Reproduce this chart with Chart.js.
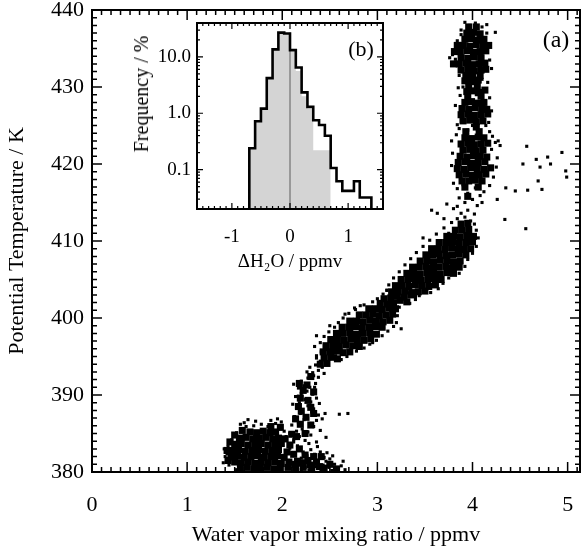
<!DOCTYPE html>
<html><head><meta charset="utf-8">
<script src="https://cdn.jsdelivr.net/npm/chart.js@4/dist/chart.umd.min.js"></script>
<style>
html,body{margin:0;padding:0;background:#fff;}
#wrap{position:relative;width:587px;height:551px;overflow:hidden;}
canvas{position:absolute;left:0;top:0;}
.lab{position:absolute;font-family:'Liberation Serif',serif;color:#000;transform:translate(-50%,-50%);white-space:nowrap;line-height:1;}
</style></head><body>
<div id="wrap">
<canvas id="main" width="587" height="551"></canvas>
<canvas id="inset" width="587" height="551"></canvas>
<div class="lab" style="left:556px;top:39px;font-size:24px;">(a)</div>
<div class="lab" style="left:361px;top:49px;font-size:22px;">(b)</div>
<div class="lab" id="insetYTitle" style="left:141px;top:94px;font-size:20px;transform:translate(-50%,-50%) rotate(-90deg);"></div>
</div>
<script>
// ---------- main panel (a) ----------
const xTicks=[0,1,2,3,4,5];
const yTicks=[380,390,400,410,420,430,440];
const xTitle='Water vapor mixing ratio / ppmv';
const yTitle='Potential Temperature / K';

// dense cores (drawn with larger squares)
const coreLow=[[1.56,380.5],[1.63,380.6],[1.70,380.4],[1.77,380.5],[1.84,380.6],[1.91,380.4],[1.98,380.5],[2.06,380.6],[2.14,380.4],[2.22,380.6],[2.31,380.5],[2.39,380.7],
[1.50,381.3],[1.57,381.2],[1.64,381.3],[1.71,381.1],[1.78,381.3],[1.85,381.2],[1.92,381.3],[1.99,381.1],[2.07,381.3],[2.16,381.4],[2.27,381.5],
[1.46,382.0],[1.53,382.1],[1.60,381.9],[1.67,382.0],[1.74,382.1],[1.81,381.9],[1.88,382.0],[1.95,382.1],[2.02,381.9],[2.12,382.3],
[1.47,382.8],[1.54,382.9],[1.61,382.7],[1.68,382.8],[1.75,382.9],[1.82,382.7],[1.89,382.8],[1.96,382.9],
[1.50,383.6],[1.57,383.7],[1.64,383.5],[1.71,383.6],[1.78,383.7],[1.85,383.5],[1.92,383.6],[1.99,383.7],
[1.55,384.4],[1.62,384.5],[1.69,384.3],[1.76,384.4],[1.83,384.5],[1.90,384.3],[1.96,384.4],
[1.66,385.2],[1.73,385.1],[1.80,385.3],[1.87,385.1],[1.93,385.2],
[2.05,382.6],[2.13,381.0],[2.21,381.2],[2.29,380.9],[2.36,381.3],[2.44,380.5],[2.50,381.0],[2.57,380.4],[2.24,382.2],[2.33,382.0],[2.08,383.5],[2.18,383.0],[2.41,382.0],[2.03,384.3],[2.10,384.9],
[1.43,381.5],[1.42,382.8],[1.45,383.9],[1.50,384.8],[1.58,385.4],[1.98,385.8],[1.88,385.9],
[2.15,384.6],[2.24,385.0],[2.30,386.1],[2.14,386.9],[2.25,387.1],[2.33,387.6],[2.17,388.5],[2.30,388.4],[2.19,389.6],[2.33,390.4],[2.26,391.3],[2.18,391.5],[2.30,392.4],
[2.20,387.9],[2.27,389.3],[2.22,390.6],[2.19,386.2]];
const coreMid=[[2.40,394.0],[2.47,394.1],[2.44,394.8],[2.51,394.9],[2.58,394.7],
[2.43,395.6],[2.50,395.6],[2.57,395.7],[2.64,395.5],[2.71,395.6],
[2.46,396.4],[2.53,396.4],[2.60,396.3],[2.67,396.5],[2.74,396.4],[2.81,396.3],
[2.51,397.2],[2.58,397.2],[2.65,397.1],[2.72,397.3],[2.79,397.2],[2.86,397.1],[2.93,397.3],
[2.57,398.0],[2.64,398.0],[2.71,398.1],[2.78,397.9],[2.85,398.0],[2.92,398.1],[2.99,397.9],
[2.63,398.8],[2.70,398.8],[2.77,398.9],[2.84,398.7],[2.91,398.8],[2.98,398.9],[3.05,398.8],
[2.71,399.6],[2.78,399.6],[2.85,399.5],[2.92,399.7],[2.99,399.6],[3.06,399.5],[3.13,399.7],
[2.81,400.4],[2.88,400.4],[2.95,400.5],[3.02,400.3],[3.09,400.4],[3.16,400.5],
[2.91,401.2],[2.98,401.2],[3.05,401.1],[3.12,401.3],[3.19,401.2],
[3.03,401.9],[3.10,401.8],[3.17,402.0],[3.24,402.3],[3.31,402.1],[3.07,402.5],[3.14,402.6],[3.21,402.9],[3.28,402.7],[3.35,403.0]];
const coreUp=[[3.15,403.4],[3.22,403.4],[3.29,403.5],[3.36,403.3],[3.43,403.4],[3.50,403.5],
[3.19,404.2],[3.26,404.2],[3.33,404.1],[3.40,404.3],[3.47,404.2],[3.54,404.1],[3.61,404.3],
[3.25,405.0],[3.32,405.0],[3.39,405.1],[3.46,404.9],[3.53,405.0],[3.60,405.1],[3.67,405.0],
[3.31,405.8],[3.38,405.8],[3.45,405.7],[3.52,405.9],[3.59,405.8],[3.66,405.7],[3.73,405.9],[3.80,405.8],
[3.37,406.6],[3.44,406.6],[3.51,406.7],[3.58,406.5],[3.65,406.6],[3.72,406.7],[3.79,406.5],[3.86,406.6],
[3.45,407.4],[3.52,407.4],[3.59,407.3],[3.66,407.5],[3.73,407.4],[3.80,407.3],[3.87,407.4],
[3.51,408.2],[3.58,408.2],[3.65,408.3],[3.72,408.1],[3.79,408.2],[3.86,408.3],[3.93,408.2],
[3.57,409.0],[3.64,409.0],[3.71,408.9],[3.78,409.1],[3.85,409.0],[3.91,408.9],[3.98,409.0],
[3.65,409.8],[3.72,409.8],[3.79,409.9],[3.86,409.7],[3.93,409.8],[4.00,409.9],
[3.73,410.6],[3.80,410.6],[3.87,410.5],[3.94,410.7],[4.01,410.6],
[3.82,411.4],[3.89,411.4],[3.96,411.5],[3.88,412.2],[3.95,412.3]];
const coreCol=[[3.95,415.8],[3.92,417.0],[4.06,417.0],[3.89,417.8],[3.96,417.8],[4.03,417.9],[4.10,417.8],
[3.86,418.6],[3.93,418.7],[4.00,418.5],[4.07,418.6],[4.14,418.7],
[3.84,419.4],[3.91,419.3],[3.98,419.5],[4.05,419.4],[4.12,419.3],[4.19,419.5],
[3.85,420.2],[3.92,420.3],[3.99,420.1],[4.06,420.2],[4.13,420.3],
[3.87,421.0],[3.94,420.9],[4.01,421.1],[4.08,421.0],[4.15,420.9],
[3.90,421.8],[3.97,421.9],[4.04,421.7],[4.11,421.8],
[3.88,422.6],[3.95,422.7],[4.02,422.5],[4.09,422.6],[4.16,422.7],
[3.92,423.4],[3.99,423.3],[4.06,423.5],[4.12,423.4],[3.93,424.2],[4.07,424.2],[4.04,424.8],
[3.90,425.6],[3.97,425.7],[4.04,425.5],[4.11,425.6],
[3.88,426.4],[3.95,426.5],[4.02,426.3],[4.09,426.4],[4.16,426.5],
[3.89,427.2],[3.96,427.1],[4.03,427.3],[4.10,427.2],[4.15,427.1],
[3.92,428.0],[3.99,428.1],[4.06,427.9],[4.12,428.0],[3.95,428.8],[4.09,428.8],
[3.94,429.4],[4.01,429.5],[4.08,429.3],[4.13,429.6],[3.96,430.1],[4.05,430.1],
[3.92,430.8],[3.99,430.7],[4.06,430.9],[3.93,431.5],[4.00,431.5],[4.08,431.5],
[3.88,432.2],[3.95,432.3],[4.02,432.1],[4.09,432.2],[4.14,432.3],
[3.80,433.0],[3.86,433.0],[3.93,433.1],[4.00,432.9],[4.07,433.0],[4.13,433.1],
[3.88,433.8],[3.95,433.7],[4.02,433.9],[4.09,433.8],
[3.81,434.6],[3.87,434.6],[3.94,434.7],[4.01,434.5],[4.08,434.6],[4.14,434.7],
[3.84,435.4],[3.90,435.4],[3.97,435.3],[4.04,435.5],[4.11,435.4],[4.17,435.4],
[3.92,436.2],[3.99,436.3],[4.06,436.1],[4.12,436.2],
[3.94,437.0],[4.01,437.1],[4.08,436.9],[3.96,437.8],[4.04,437.8]];

// scattered individual samples (small squares)
const scatLow=[[1.42,382.4],[1.43,383.3],[1.45,381.6],[1.47,384.2],[1.44,380.9],[1.52,385.1],[1.58,385.5],[1.62,385.9],[1.70,386.0],[1.78,386.2],[1.85,385.9],[1.93,386.3],[1.98,385.6],[1.88,386.7],[1.95,386.9],[1.99,386.5],[1.72,386.6],[1.60,386.4],[1.50,384.9],[1.46,383.9],[1.40,382.0],[1.52,380.3],[2.04,384.6],[2.02,385.3],[2.08,383.1],[2.10,382.4],[2.14,381.6],[2.18,380.9],[2.20,381.8],[2.24,380.6],[2.27,381.3],[2.30,380.4],[2.32,381.0],[2.35,380.7],[2.38,381.5],[2.41,380.3],[2.43,380.9],[2.46,381.4],[2.49,380.6],[2.52,380.2],[2.55,381.0],[2.58,380.5],[2.62,380.8],[2.22,382.6],[2.26,382.1],[2.30,382.9],[2.34,382.3],[2.37,383.3],[2.40,382.6],[2.28,383.7],[2.16,383.4],[2.44,381.9],[2.50,381.7],[2.33,381.8],[2.28,380.2],[2.20,380.3],[2.12,383.9],[1.56,386.2],[1.64,386.8],[2.64,381.4],[2.47,382.5],[2.53,382.1],[2.36,383.9],[2.66,380.3],[1.38,381.2],[1.39,383.0]];
const colLow=[[2.12,384.2],[2.18,384.6],[2.24,384.1],[2.30,384.8],[2.15,385.3],[2.21,385.6],[2.27,385.2],[2.33,385.9],[2.10,386.1],[2.17,386.4],[2.23,386.8],[2.29,386.3],[2.36,386.7],[2.13,387.2],[2.19,387.6],[2.25,387.3],[2.31,387.8],[2.38,387.4],[2.42,386.9],[2.15,388.3],[2.21,388.1],[2.27,388.6],[2.33,388.2],[2.18,389.0],[2.24,389.4],[2.30,389.1],[2.36,389.6],[2.14,389.8],[2.20,390.2],[2.26,390.5],[2.32,390.1],[2.17,390.9],[2.23,391.2],[2.29,391.0],[2.35,391.5],[2.20,391.8],[2.27,392.2],[2.33,392.5],[2.11,388.8],[2.39,388.9],[2.45,387.6],[2.60,387.5],[2.69,387.6],[2.08,385.0],[2.40,385.4],[2.46,384.5],[2.12,391.4],
[2.32,392.9],[2.38,393.2],[2.29,393.6],[2.35,393.9],[2.42,393.6],[2.40,394.4],[2.46,394.1],[2.36,394.8],[2.44,395.2],[2.50,394.7],[2.52,395.5],[2.47,395.9],[2.56,395.1],[2.41,395.6],[2.58,394.6],[2.26,393.0],[2.44,392.8],[2.38,392.3],[2.34,391.0]];
const scatMid=[[2.40,396.8],[2.44,397.6],[2.49,398.2],[2.55,398.8],[2.59,399.4],[2.64,400.0],[2.70,400.6],[2.77,401.1],[2.86,401.7],[2.95,402.1],[2.78,395.7],[2.86,396.1],[2.92,396.6],[2.99,397.1],[3.05,397.7],[3.11,398.3],[3.17,398.9],[3.20,399.4],[3.25,398.6],[3.21,400.3],[3.23,401.4],[2.60,397.9],[2.66,400.5],[2.76,401.3],[2.36,397.7],[2.50,399.0],[2.95,396.8],[3.02,399.2],[2.82,401.6],[2.36,395.1],
[3.00,402.5],[3.06,403.1],[3.34,401.9],[3.40,402.4],[3.44,402.9],[3.10,403.6],[2.62,394.6],[2.68,395.0],[2.34,396.3]];
const scatUp=[[3.12,404.3],[3.17,405.2],[3.23,406.0],[3.29,406.9],[3.35,407.7],[3.41,408.5],[3.48,409.3],[3.55,410.1],[3.62,410.9],[3.70,411.7],[3.56,403.3],[3.64,403.8],[3.69,404.5],[3.75,405.2],[3.86,405.8],[3.92,406.7],[3.95,407.6],[4.00,408.4],[4.04,409.3],[4.06,410.4],[3.40,402.8],[3.10,403.6],[4.04,411.4],[4.02,412.2],[3.78,412.4],[3.84,412.9],[3.92,413.1],[3.70,412.9],[3.63,413.6],[3.57,414.0],[3.80,414.2],[3.73,414.8],[3.48,410.4],[3.75,411.0],
[3.88,413.6],[3.95,414.0],[4.02,413.5],[3.98,412.6],[4.05,414.6],[3.92,415.0],[4.00,415.4],[4.08,415.9],[3.86,415.6],[4.12,416.4],[3.95,416.2],[4.03,416.9],[3.90,417.3],[4.10,417.6],[3.97,417.8],[3.84,414.5],[4.10,415.0]];
const scatCol=[[3.80,417.5],[3.84,416.8],[4.18,417.2],[4.22,418.3],[4.25,419.6],[4.26,420.8],[3.78,419.8],[3.79,421.4],[4.20,421.9],[4.24,422.8],[3.83,423.8],[4.18,424.2],[3.95,424.4],[4.05,424.6],[4.00,425.0],[3.84,425.1],[4.17,425.4],[3.82,427.6],[4.20,426.9],[4.18,428.6],[3.87,428.9],[3.90,430.0],[4.12,429.8],[3.97,431.4],[4.04,429.0],[4.10,431.0],[3.86,431.5],[3.80,432.8],[4.18,433.5],[3.79,434.2],[4.18,435.6],[3.84,436.0],[3.88,437.4],[4.15,437.0],[3.97,438.0],[4.03,438.3],[4.10,437.8],[3.92,438.4],[4.15,438.1],[4.24,437.1],[3.82,433.6],[3.83,435.0],[4.20,432.4],[3.78,423.0],[4.21,423.6],[3.86,424.6],[4.14,425.0],[3.85,429.9],[4.16,430.6],[3.88,436.8],[3.76,433.8]];
const outliers=[[4.57,422.3],[4.67,420.6],[4.79,420.9],[4.94,421.5],[4.82,420.0],[4.53,420.0],[4.71,419.6],[4.98,419.1],[4.99,418.3],[4.69,417.8],[4.73,416.7],[4.58,416.6],[4.45,416.5],[4.35,416.9],[4.26,415.4],[4.34,412.8],[4.56,411.6],[4.27,423.0],[4.29,422.4]];

// ---------- inset panel (b) ----------
const insetXTicks=[-1,0,1];
const insetYTicks=[0.1,1,10];
const insetYLabels=['0.1','1.0','10.0'];
const insetXTitle='\u0394H\u2082O / ppmv';
const insetYTitle='Frequency / %';
const binEdges=[-0.7,-0.6,-0.5,-0.4,-0.3,-0.2,-0.1,0.0,0.1,0.2,0.3,0.4,0.5,0.6,0.7,0.8,0.9,1.0,1.1,1.2,1.3,1.4];
const freqAll=[0.105,0.24,0.72,1.21,4.2,13.6,27,26,13.2,6.5,2.35,1.3,0.75,0.62,0.40,0.107,0.062,0.042,0.042,0.062,0.032];
const freqGray=[0.105,0.24,0.72,1.21,4.2,13.6,27,26,12.5,5.6,2.0,1.2,0.22,0.22];

document.getElementById('insetYTitle').textContent=insetYTitle;

const FONT='Liberation Serif';
Chart.defaults.font.family=FONT;
Chart.defaults.color='#000';

const pts=a=>a.map(p=>({x:p[0],y:p[1]}));
function range(a,b,s){const r=[];for(let v=a;v<=b+1e-9;v+=s)r.push(Math.round(v*1000)/1000);return r;}
function logMinor(lo,hi){const r=[];for(let d=-2;d<=1;d++){for(let m=1;m<=9;m++){const v=m*Math.pow(10,d);if(v>=lo&&v<=hi)r.push(v);}}return r;}

function frameTicks(o){
  return {id:'frameTicks',
    beforeDraw(chart){
      if(!o.fill)return;
      const {ctx,chartArea:a}=chart;
      ctx.save();ctx.fillStyle='#fff';ctx.fillRect(a.left,a.top,a.right-a.left,a.bottom-a.top);ctx.restore();
    },
    afterDraw(chart){
    const {ctx,chartArea:a,scales:{x,y}}=chart;
    ctx.save();
    ctx.strokeStyle='#000';
    ctx.lineWidth=o.tw;
    ctx.beginPath();
    const addX=(vals,len)=>vals.forEach(v=>{const p=x.getPixelForValue(v);if(p<a.left+1||p>a.right-1)return;ctx.moveTo(p,a.bottom);ctx.lineTo(p,a.bottom-len);ctx.moveTo(p,a.top);ctx.lineTo(p,a.top+len);});
    const addY=(vals,len)=>vals.forEach(v=>{const p=y.getPixelForValue(v);if(p<a.top+1||p>a.bottom-1)return;ctx.moveTo(a.left,p);ctx.lineTo(a.left+len,p);ctx.moveTo(a.right,p);ctx.lineTo(a.right-len,p);});
    addX(o.xMinor,o.minLen);addX(o.xMajor,o.majLen);
    addY(o.yMinor,o.minLen);addY(o.yMajor,o.majLen);
    ctx.stroke();
    ctx.lineWidth=o.fw;
    ctx.strokeRect(a.left,a.top,a.right-a.left,a.bottom-a.top);
    ctx.restore();
  }};
}
function zeroPad(s){s.paddingTop=0;s.paddingBottom=0;s.paddingLeft=0;s.paddingRight=0;}

const big={pointStyle:'rect',pointRadius:5,backgroundColor:'#000',borderWidth:0,pointHoverRadius:5};
const small={pointStyle:'rect',pointRadius:2.2,backgroundColor:'#000',borderWidth:0,pointHoverRadius:2.2};

new Chart(document.getElementById('main'),{
  type:'scatter',
  data:{datasets:[
    Object.assign({data:pts(coreLow.concat(coreMid,coreUp,coreCol))},big),
    Object.assign({data:pts(scatLow.concat(colLow,scatMid,scatUp,scatCol,outliers))},small)
  ]},
  options:{
    responsive:false,animation:false,devicePixelRatio:1,
    layout:{padding:{top:10,right:7,left:0,bottom:0}},
    plugins:{legend:{display:false},tooltip:{enabled:false}},
    scales:{
      x:{type:'linear',min:0,max:5.13,
        afterBuildTicks:s=>{s.ticks=xTicks.map(v=>({value:v}));},
        afterFit:s=>{s.height=79;zeroPad(s);},
        ticks:{font:{size:22},color:'#000',padding:20,maxRotation:0,callback:v=>String(v)},
        grid:{display:false,drawTicks:false},border:{display:false},
        title:{display:true,text:xTitle,font:{size:22},color:'#000',padding:{top:0,bottom:3}}},
      y:{type:'linear',min:380,max:440,
        afterBuildTicks:s=>{s.ticks=yTicks.map(v=>({value:v}));},
        afterFit:s=>{s.width=92;zeroPad(s);},
        ticks:{font:{size:22},color:'#000',padding:8,callback:v=>String(v)},
        grid:{display:false,drawTicks:false},border:{display:false},
        title:{display:true,text:yTitle,font:{size:22},color:'#000',padding:{top:4,bottom:0}}}
    }
  },
  plugins:[frameTicks({tw:1.5,fw:2,minLen:5,majLen:10,xMajor:xTicks,yMajor:yTicks,xMinor:range(0,5.1,0.1),yMinor:range(380,440,1)})]
});

// inset datasets built from bins
function stepPts(edges,vals,base){
  const r=[{x:edges[0],y:base}];
  for(let i=0;i<vals.length;i++)r.push({x:edges[i],y:vals[i]});
  r.push({x:edges[vals.length],y:vals[vals.length-1]});
  r.push({x:edges[vals.length],y:base});
  return r;
}
const yMinInset=0.02,yMaxInset=40;
new Chart(document.getElementById('inset'),{
  type:'line',
  data:{datasets:[
    {data:stepPts(binEdges,freqAll,yMinInset),stepped:'after',borderColor:'#000',borderWidth:2.6,pointRadius:0,fill:false},
    {data:[{x:0,y:yMinInset},{x:0,y:Math.max(...freqAll)}],borderColor:'#8a8a8a',borderWidth:1.6,pointRadius:0,fill:false},
    {data:stepPts(binEdges,freqGray,yMinInset),stepped:'after',borderWidth:0,borderColor:'rgba(0,0,0,0)',backgroundColor:'#d4d4d4',pointRadius:0,fill:'start'}
  ]},
  options:{
    responsive:false,animation:false,devicePixelRatio:1,
    layout:{padding:{top:23,right:204,left:127,bottom:278}},
    plugins:{legend:{display:false},tooltip:{enabled:false}},
    scales:{
      x:{type:'linear',min:-1.6,max:1.6,
        afterBuildTicks:s=>{s.ticks=insetXTicks.map(v=>({value:v}));},
        afterFit:s=>{s.height=64;zeroPad(s);},
        ticks:{font:{size:19},color:'#000',padding:17,maxRotation:0,callback:v=>String(v)},
        grid:{display:false,drawTicks:false},border:{display:false},
        title:{display:true,text:insetXTitle,font:{size:19},color:'#000',padding:{top:0,bottom:0}}},
      y:{type:'logarithmic',min:yMinInset,max:yMaxInset,
        afterBuildTicks:s=>{s.ticks=insetYTicks.map(v=>({value:v}));},
        afterFit:s=>{s.width=70;zeroPad(s);},
        ticks:{font:{size:19},color:'#000',padding:6,callback:(v,i)=>insetYLabels[i]},
        grid:{display:false,drawTicks:false},border:{display:false},
        title:{display:false}}
    }
  },
  plugins:[frameTicks({fill:true,tw:1.2,fw:2,minLen:3,majLen:6,xMajor:insetXTicks,yMajor:insetYTicks,xMinor:range(-1.6,1.6,0.1),yMinor:logMinor(0.02,40)})]
});
</script>
</body></html>
